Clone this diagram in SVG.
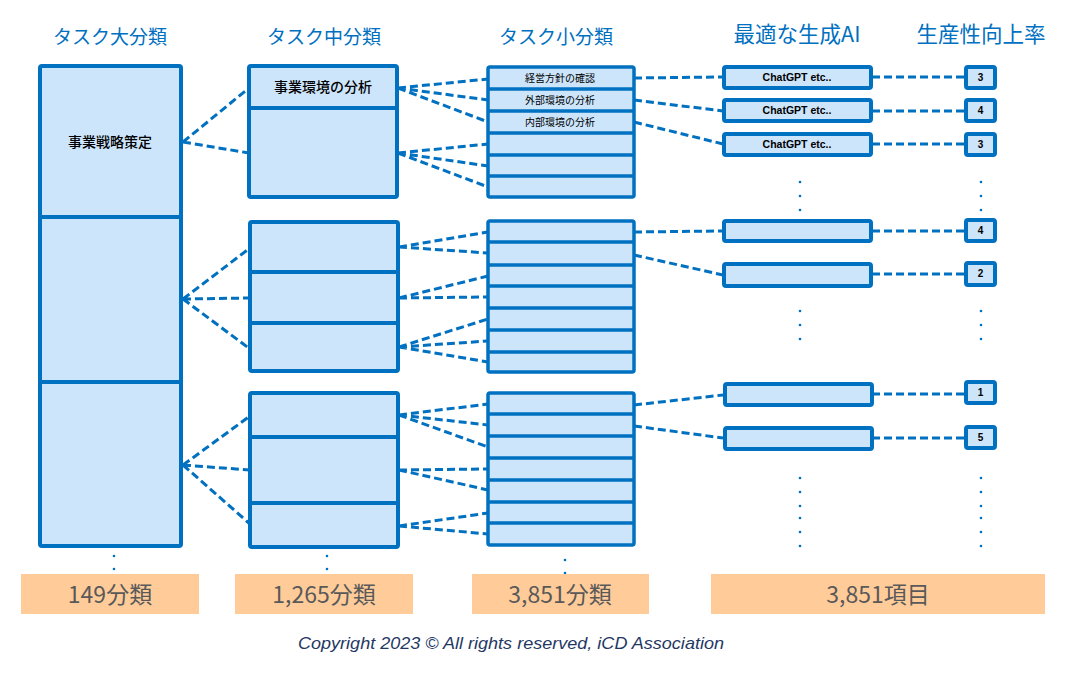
<svg xmlns="http://www.w3.org/2000/svg" width="1078" height="682" viewBox="0 0 1078 682">
<style>
.box{fill:#CCE5FB;stroke:#0070C0;stroke-width:4;stroke-linejoin:round}
.sbox{fill:#CCE5FB;stroke:#0070C0;stroke-width:3.5;stroke-linejoin:round}
.div{stroke:#0070C0;stroke-width:4}
.sdiv{stroke:#0070C0;stroke-width:3.5}
.con{stroke:#0070C0;stroke-width:3;stroke-dasharray:8 4;fill:none}
.hdr{font-family:"Noto Sans CJK JP","Noto Sans",sans-serif;font-size:19px;fill:#0070C0;text-anchor:middle}
.hdr2{font-family:"Noto Sans CJK JP","Noto Sans",sans-serif;font-size:21.5px;fill:#0070C0;text-anchor:middle}
.lbl{font-family:"Noto Sans CJK JP","Noto Sans",sans-serif;font-size:14px;font-weight:500;fill:#000;text-anchor:middle}
.sl{font-family:"Noto Sans CJK JP","Noto Sans",sans-serif;font-size:10px;fill:#000;text-anchor:middle}
.ai{font-family:"Liberation Sans",Arial,sans-serif;font-size:10.5px;font-weight:bold;fill:#000;text-anchor:middle}
.num{font-family:"Liberation Sans",Arial,sans-serif;font-size:10px;font-weight:bold;fill:#000;text-anchor:middle}
.cnt{fill:#FFCC99}
.ct{font-family:"Noto Sans CJK JP","Noto Sans",sans-serif;font-size:23px;fill:#595959;text-anchor:middle}
.dot{fill:#0070C0}
</style>
<rect width="1078" height="682" fill="#fff"/>
<g id="headers">
<text class="hdr" x="110" y="44">タスク大分類</text>
<text class="hdr" x="324" y="44">タスク中分類</text>
<text class="hdr" x="556" y="44">タスク小分類</text>
<text class="hdr2" x="797" y="42">最適な生成AI</text>
<text class="hdr2" x="981" y="42">生産性向上率</text>
</g>
<g id="connectors">
<path class="con" d="M183 142L249 88M183 142L249 153"/>
<path class="con" d="M183 299L250 248M183 299L250 298M183 299L250 349"/>
<path class="con" d="M183 465L250 416M183 465L250 470M183 465L250 524"/>
<path class="con" d="M398 88L488 79M398 88L488 100M398 88L488 122M398 153L488 144M398 153L488 166M398 153L488 187"/>
<path class="con" d="M399 247L488 232M399 247L488 253M399 298L488 276M399 298L488 297M399 347L488 319M399 347L488 341M399 347L488 362"/>
<path class="con" d="M399 415L488 404M399 415L488 425M399 415L488 447M399 470L488 469M399 470L488 490M399 526L488 513M399 526L488 534"/>
<path class="con" d="M634 78L723 77M634 100L723 111M634 122L723 144"/>
<path class="con" d="M634 232L723 231M634 255L723 275"/>
<path class="con" d="M634 405L723 395M634 426L723 438"/>
<path class="con" d="M872 77H965M872 111H965M872 144H965M872 231H965M872 274H965M872 394H965M872 438H965"/>
</g>
<g id="col1">
<rect class="box" x="40" y="66" width="141" height="480" rx="2"/>
<line class="div" x1="40" y1="217" x2="181" y2="217"/>
<line class="div" x1="40" y1="382" x2="181" y2="382"/>
<text class="lbl" x="110" y="147">事業戦略策定</text>
</g>
<g id="col2-g1">
<rect class="box" x="249" y="66" width="148" height="131" rx="2"/>
<line class="div" x1="249" y1="108" x2="397" y2="108"/>
<text class="lbl" x="323" y="92">事業環境の分析</text>
</g>
<g id="col2-g2">
<rect class="box" x="250" y="222" width="148" height="149" rx="2"/>
<line class="div" x1="250" y1="272" x2="398" y2="272"/>
<line class="div" x1="250" y1="323" x2="398" y2="323"/>
</g>
<g id="col2-g3">
<rect class="box" x="250" y="393" width="148" height="154" rx="2"/>
<line class="div" x1="250" y1="437" x2="398" y2="437"/>
<line class="div" x1="250" y1="503" x2="398" y2="503"/>
</g>
<g id="col3-g1">
<rect class="sbox" x="488" y="67" width="146" height="130" rx="2"/>
<line class="sdiv" x1="488" y1="89" x2="634" y2="89"/>
<line class="sdiv" x1="488" y1="111" x2="634" y2="111"/>
<line class="sdiv" x1="488" y1="133" x2="634" y2="133"/>
<line class="sdiv" x1="488" y1="155" x2="634" y2="155"/>
<line class="sdiv" x1="488" y1="176" x2="634" y2="176"/>
<text class="sl" x="560" y="82">経営方針の確認</text>
<text class="sl" x="560" y="104">外部環境の分析</text>
<text class="sl" x="560" y="126">内部環境の分析</text>
</g>
<g id="col3-g2">
<rect class="sbox" x="488" y="221" width="146" height="151" rx="2"/>
<line class="sdiv" x1="488" y1="242" x2="634" y2="242"/>
<line class="sdiv" x1="488" y1="265" x2="634" y2="265"/>
<line class="sdiv" x1="488" y1="286" x2="634" y2="286"/>
<line class="sdiv" x1="488" y1="308" x2="634" y2="308"/>
<line class="sdiv" x1="488" y1="330" x2="634" y2="330"/>
<line class="sdiv" x1="488" y1="352" x2="634" y2="352"/>
</g>
<g id="col3-g3">
<rect class="sbox" x="488" y="393" width="146" height="152" rx="2"/>
<line class="sdiv" x1="488" y1="414" x2="634" y2="414"/>
<line class="sdiv" x1="488" y1="436" x2="634" y2="436"/>
<line class="sdiv" x1="488" y1="458" x2="634" y2="458"/>
<line class="sdiv" x1="488" y1="480" x2="634" y2="480"/>
<line class="sdiv" x1="488" y1="502" x2="634" y2="502"/>
<line class="sdiv" x1="488" y1="523" x2="634" y2="523"/>
</g>
<g id="col4">
<rect class="box" x="724" y="67" width="147" height="21" rx="2"/>
<text class="ai" x="797" y="81">ChatGPT etc..</text>
<rect class="box" x="724" y="100" width="147" height="21" rx="2"/>
<text class="ai" x="797" y="114">ChatGPT etc..</text>
<rect class="box" x="724" y="134" width="147" height="21" rx="2"/>
<text class="ai" x="797" y="148">ChatGPT etc..</text>
<rect class="box" x="724" y="221" width="147" height="20" rx="2"/>
<rect class="box" x="724" y="264" width="147" height="22" rx="2"/>
<rect class="box" x="725" y="384" width="147" height="21" rx="2"/>
<rect class="box" x="725" y="428" width="147" height="21" rx="2"/>
</g>
<g id="col5">
<rect class="box" x="966" y="67" width="29" height="21" rx="2"/>
<text class="num" x="980.5" y="81">3</text>
<rect class="box" x="966" y="100" width="29" height="21" rx="2"/>
<text class="num" x="980.5" y="114">4</text>
<rect class="box" x="966" y="134" width="29" height="21" rx="2"/>
<text class="num" x="980.5" y="148">3</text>
<rect class="box" x="966" y="220" width="29" height="21" rx="2"/>
<text class="num" x="980.5" y="234">4</text>
<rect class="box" x="966" y="263" width="29" height="22" rx="2"/>
<text class="num" x="980.5" y="277">2</text>
<rect class="box" x="966" y="382" width="29" height="21" rx="2"/>
<text class="num" x="980.5" y="396">1</text>
<rect class="box" x="966" y="427" width="29" height="21" rx="2"/>
<text class="num" x="980.5" y="441">5</text>
</g>
<g id="ellipses">
<circle class="dot" cx="800" cy="182" r="1.3"/><circle class="dot" cx="800" cy="196" r="1.3"/><circle class="dot" cx="800" cy="210" r="1.3"/>
<circle class="dot" cx="800" cy="311" r="1.3"/><circle class="dot" cx="800" cy="325" r="1.3"/><circle class="dot" cx="800" cy="339" r="1.3"/>
<circle class="dot" cx="800" cy="478" r="1.3"/><circle class="dot" cx="800" cy="492" r="1.3"/><circle class="dot" cx="800" cy="506" r="1.3"/><circle class="dot" cx="800" cy="518" r="1.3"/><circle class="dot" cx="800" cy="532" r="1.3"/><circle class="dot" cx="800" cy="546" r="1.3"/>
<circle class="dot" cx="981" cy="182" r="1.3"/><circle class="dot" cx="981" cy="196" r="1.3"/><circle class="dot" cx="981" cy="210" r="1.3"/>
<circle class="dot" cx="981" cy="311" r="1.3"/><circle class="dot" cx="981" cy="325" r="1.3"/><circle class="dot" cx="981" cy="339" r="1.3"/>
<circle class="dot" cx="981" cy="478" r="1.3"/><circle class="dot" cx="981" cy="492" r="1.3"/><circle class="dot" cx="981" cy="506" r="1.3"/><circle class="dot" cx="981" cy="518" r="1.3"/><circle class="dot" cx="981" cy="532" r="1.3"/><circle class="dot" cx="981" cy="546" r="1.3"/>
<circle class="dot" cx="114" cy="556" r="1.3"/><circle class="dot" cx="114" cy="569" r="1.3"/>
<circle class="dot" cx="327" cy="556" r="1.3"/><circle class="dot" cx="327" cy="569" r="1.3"/>
<circle class="dot" cx="565" cy="560" r="1.3"/><circle class="dot" cx="565" cy="573" r="1.3"/>
</g>
<g id="counts">
<rect class="cnt" x="21" y="574" width="178" height="40"/>
<text class="ct" x="110" y="603">149分類</text>
<rect class="cnt" x="235" y="574" width="178" height="40"/>
<text class="ct" x="324" y="603">1,265分類</text>
<rect class="cnt" x="472" y="574" width="177" height="40"/>
<text class="ct" x="560" y="603">3,851分類</text>
<rect class="cnt" x="711" y="574" width="334" height="40"/>
<text class="ct" x="878" y="603">3,851項目</text>
</g>
<text x="511" y="649" font-family="Liberation Sans, Arial, sans-serif" font-size="17" font-style="italic" fill="#1F3864" text-anchor="middle" textLength="426" lengthAdjust="spacingAndGlyphs">Copyright 2023 © All rights reserved, iCD Association</text>
</svg>
